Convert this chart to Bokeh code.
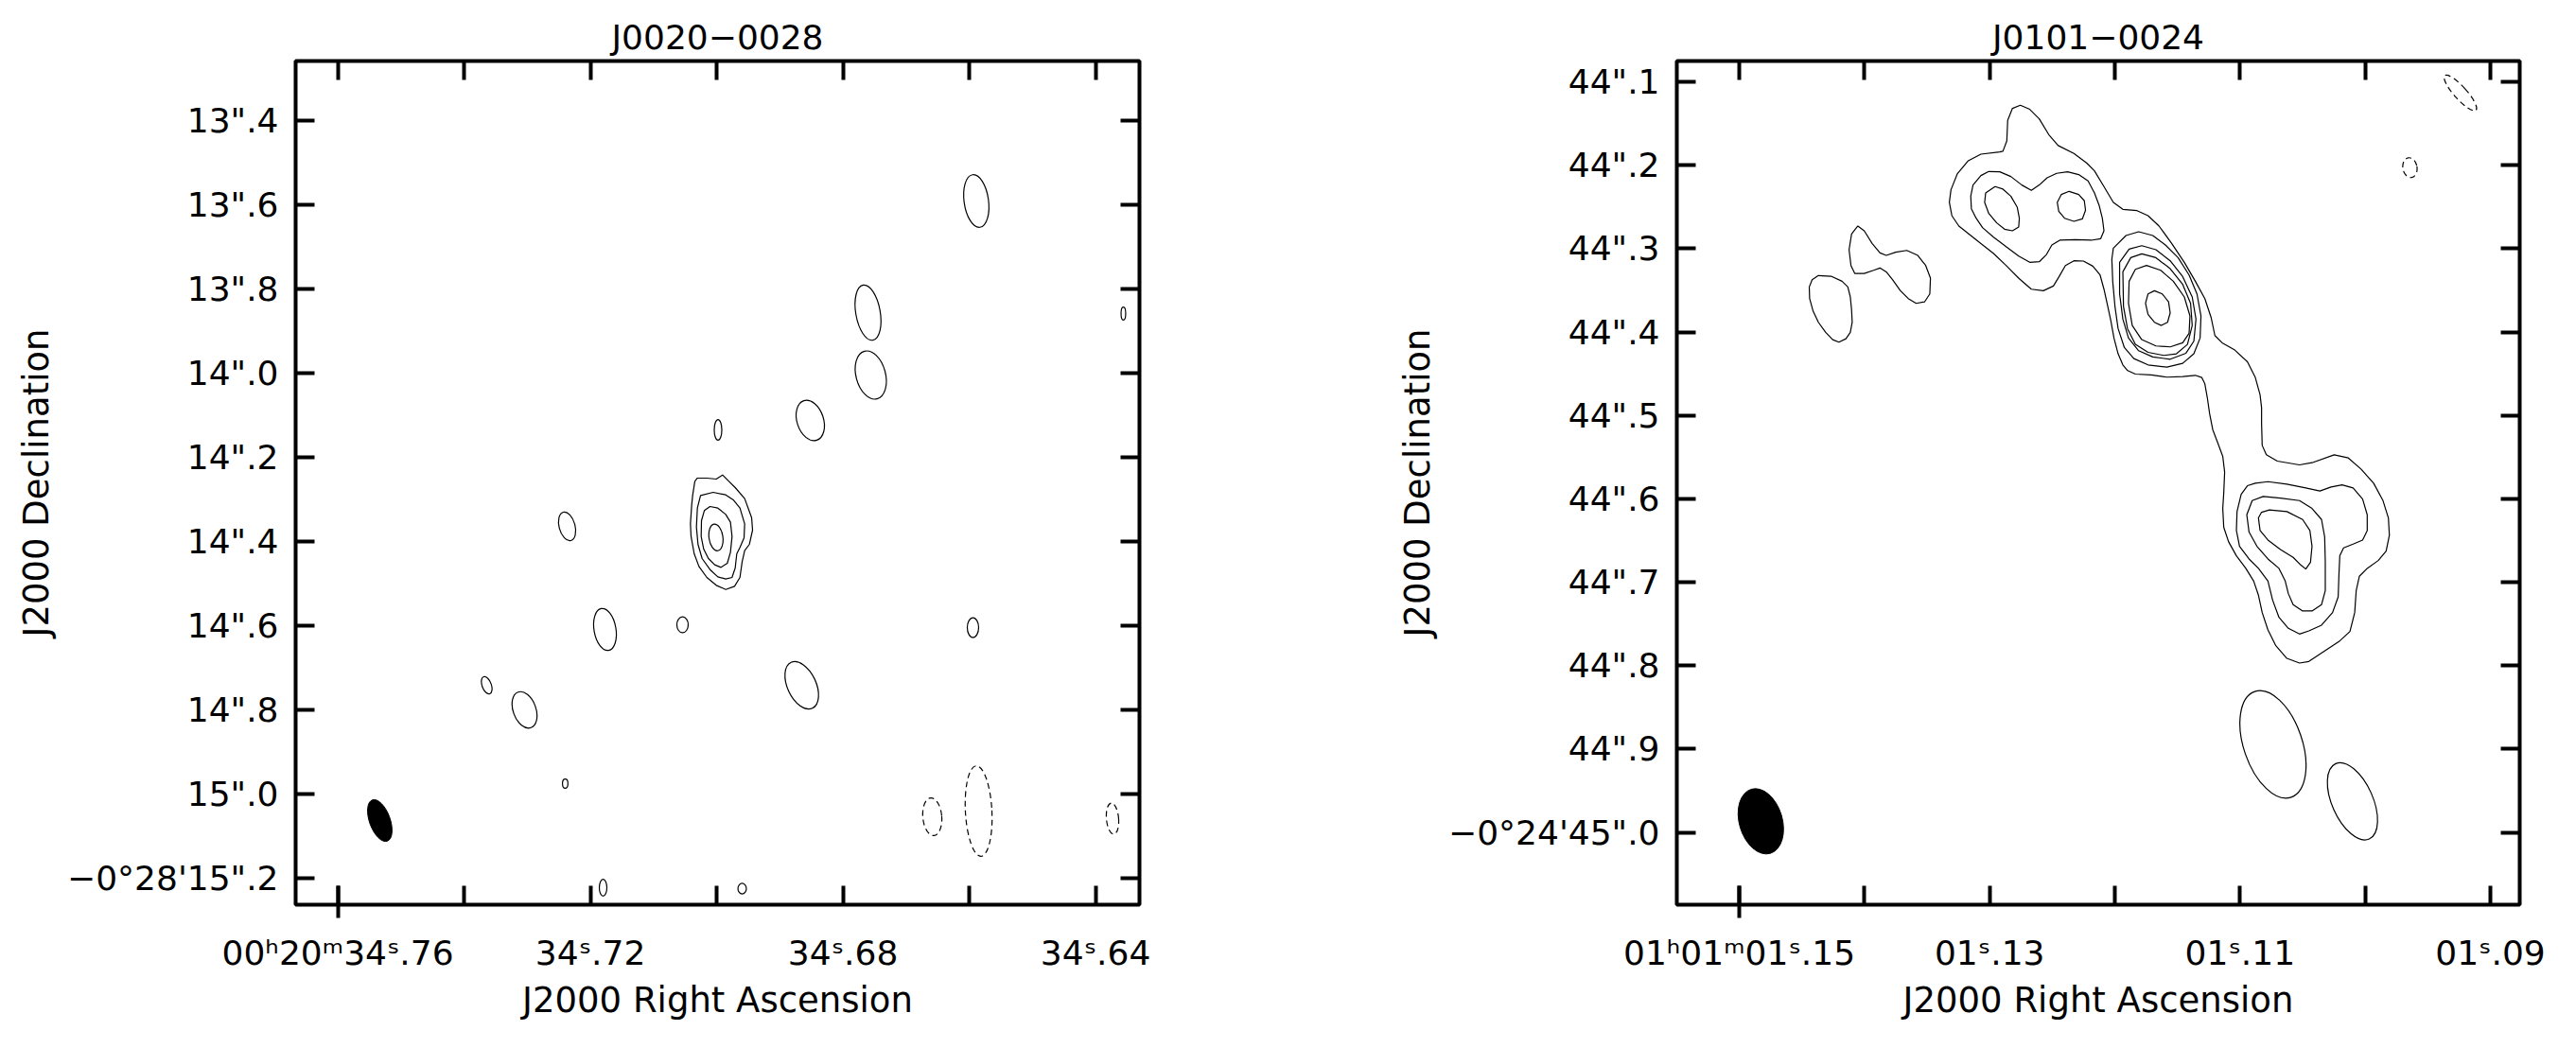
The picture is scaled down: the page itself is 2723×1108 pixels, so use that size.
import math
from bokeh.plotting import figure
from bokeh.layouts import row
from bokeh.models import Range1d, LinearAxis, FixedTicker
from bokeh.embed import file_html
from bokeh.resources import INLINE

FONT = "DejaVu Sans"

# ===================== J0020-0028 (left map) =====================
# RA in seconds of time after 00h20m, Dec in arcsec after -0d28'
L_TITLE = "J0020−0028"
L_DEC0_DEG = -0.4706
L_XLIM = (34.76668, 34.63305)
L_YLIM = (15.2629, 13.2584)
L_XTICKS = [34.76, 34.74, 34.72, 34.70, 34.68, 34.66, 34.64]
L_XLABELS = ["00ʰ20ᵐ34ˢ.76", "", "34ˢ.72", "", "34ˢ.68", "", "34ˢ.64"]
L_YTICKS = [13.4, 13.6, 13.8, 14.0, 14.2, 14.4, 14.6, 14.8, 15.0, 15.2]
L_YLABELS = ['13".4', '13".6', '13".8', '14".0', '14".2', '14".4', '14".6', '14".8', '15".0', "−0°28'15\".2"]

# contours of the central source (polygons)
L_SRC_RA = [
    [34.70306, 34.70156, 34.70007, 34.69907, 34.69807, 34.69707, 34.69557, 34.69447, 34.69432, 34.69482,
     34.69557, 34.69597, 34.69632, 34.69717, 34.69857, 34.70007, 34.70156, 34.70281, 34.70356, 34.70406,
     34.70416, 34.70396, 34.70381, 34.70346],
    [34.70256, 34.70056, 34.69857, 34.69732, 34.69632, 34.69557, 34.69567, 34.69632, 34.69682, 34.69707,
     34.69757, 34.69857, 34.69982, 34.70106, 34.70231, 34.70296, 34.70321, 34.70306],
    [34.70106, 34.69982, 34.69857, 34.69782, 34.69757, 34.69782, 34.69832, 34.69932, 34.70032, 34.70131,
     34.70206, 34.70246, 34.70241, 34.70196],
]
L_SRC_DEC = [
    [14.2494, 14.2494, 14.2517, 14.2419, 14.2569, 14.2719, 14.2981, 14.3431, 14.3730, 14.4067,
     14.4217, 14.4479, 14.4854, 14.5064, 14.5139, 14.5041, 14.4854, 14.4592, 14.4292, 14.3880,
     14.3581, 14.3131, 14.2906, 14.2569],
    [14.2906, 14.2831, 14.2891, 14.3019, 14.3206, 14.3581, 14.3918, 14.4142, 14.4292, 14.4629,
     14.4854, 14.4891, 14.4839, 14.4667, 14.4404, 14.4067, 14.3655, 14.3206],
    [14.3169, 14.3206, 14.3356, 14.3543, 14.3880, 14.4255, 14.4517, 14.4614, 14.4554, 14.4404,
     14.4180, 14.3880, 14.3506, 14.3266],
]

# positive contour islands (ellipses): centre, major / minor axis (arcsec), PA (deg)
L_ISL_RA = [34.65889, 34.67604, 34.67560, 34.68518, 34.69979, 34.72369, 34.71769, 34.70541, 34.68653,
            34.65942, 34.73642, 34.73043, 34.72399, 34.71799, 34.69597, 34.63560, 34.70012]
L_ISL_DEC = [13.5910, 13.8562, 14.0045, 14.1124, 14.1348, 14.3640, 14.6090, 14.5978, 14.7416,
             14.6045, 14.7416, 14.8000, 14.9753, 15.2225, 15.2247, 13.8584, 14.3903]
L_ISL_MAJ = [0.126, 0.133, 0.117, 0.099, 0.049, 0.070, 0.101, 0.038, 0.120,
             0.047, 0.043, 0.090, 0.022, 0.040, 0.025, 0.031, 0.064]
L_ISL_MIN = [0.058, 0.058, 0.070, 0.063, 0.018, 0.038, 0.052, 0.027, 0.068,
             0.027, 0.022, 0.054, 0.013, 0.018, 0.020, 0.011, 0.033]
L_ISL_PA = [8, 10, 15, 18, 0, 15, 10, 0, 25, 0, 20, 20, 0, 0, 0, 0, 8]

# negative contours (dashed)
L_NEG_RA = [34.66586, 34.65852, 34.63732]
L_NEG_DEC = [15.0539, 15.0404, 15.0584]
L_NEG_MAJ = [0.090, 0.216, 0.074]
L_NEG_MIN = [0.045, 0.063, 0.029]
L_NEG_PA = [5, 3, 5]

# restoring beam
L_BEAM_RA, L_BEAM_DEC, L_BEAM_MAJ, L_BEAM_MIN, L_BEAM_PA = 34.75335, 15.0629, 0.104, 0.049, 20

# ===================== J0101-0024 (right map) =====================
# RA in seconds of time after 01h01m, Dec in arcsec after -0d24'
R_TITLE = "J0101−0024"
R_DEC0_DEG = -0.4125
R_XLIM = (1.15499, 1.08766)
R_YLIM = (45.0867, 44.0750)
R_XTICKS = [1.15, 1.14, 1.13, 1.12, 1.11, 1.10, 1.09]
R_XLABELS = ["01ʰ01ᵐ01ˢ.15", "", "01ˢ.13", "", "01ˢ.11", "", "01ˢ.09"]
R_YTICKS = [44.1, 44.2, 44.3, 44.4, 44.5, 44.6, 44.7, 44.8, 44.9, 45.0]
R_YLABELS = ['44".1', '44".2', '44".3', '44".4', '44".5', '44".6', '44".7', '44".8', '44".9', "−0°24'45\".0"]

R_POLY_RA = [
    # lowest contour enclosing the whole jet
    [1.12894, 1.12863, 1.12856, 1.12818, 1.12755, 1.12680, 1.12604, 1.12528, 1.12453, 1.12327,
     1.12226, 1.12163, 1.12087, 1.12012, 1.11936, 1.11823, 1.11735, 1.11647, 1.11546, 1.11445,
     1.11357, 1.11281, 1.11231, 1.11201, 1.11143, 1.11042, 1.10941, 1.10878, 1.10840, 1.10828,
     1.10828, 1.10823, 1.10790, 1.10702, 1.10525, 1.10425, 1.10248, 1.10135, 1.10034, 1.09933,
     1.09858, 1.09815, 1.09807, 1.09833, 1.09896, 1.09984, 1.10047, 1.10072, 1.10084, 1.10122,
     1.10210, 1.10336, 1.10450, 1.10525, 1.10626, 1.10714, 1.10777, 1.10823, 1.10853, 1.10891,
     1.10954, 1.11029, 1.11092, 1.11130, 1.11138, 1.11130, 1.11123, 1.11138, 1.11180, 1.11218,
     1.11243, 1.11261, 1.11281, 1.11306, 1.11357, 1.11458, 1.11584, 1.11710, 1.11836, 1.11898,
     1.11936, 1.11974, 1.12007, 1.12032, 1.12062, 1.12087, 1.12118, 1.12176, 1.12251, 1.12327,
     1.12395, 1.12445, 1.12491, 1.12571, 1.12667, 1.12763, 1.12869, 1.12969, 1.13120, 1.13246,
     1.13302, 1.13322, 1.13309, 1.13259, 1.13171, 1.13070, 1.12919],
    # second contour round the double knot
    [1.13151, 1.13133, 1.13070, 1.13007, 1.12919, 1.12831, 1.12743, 1.12667, 1.12604, 1.12541,
     1.12465, 1.12377, 1.12289, 1.12214, 1.12163, 1.12125, 1.12100, 1.12087, 1.12113, 1.12188,
     1.12314, 1.12440, 1.12503, 1.12546, 1.12604, 1.12680, 1.12768, 1.12869, 1.12969, 1.13057,
     1.13108, 1.13146],
    [1.12957, 1.12894, 1.12831, 1.12780, 1.12763, 1.12768, 1.12818, 1.12881, 1.12944, 1.13007,
     1.13040, 1.13032],
    [1.12365, 1.12289, 1.12244, 1.12234, 1.12259, 1.12327, 1.12402, 1.12448, 1.12460, 1.12428],
    # main knot
    [1.12012, 1.11911, 1.11810, 1.11697, 1.11596, 1.11495, 1.11407, 1.11344, 1.11312, 1.11319,
     1.11369, 1.11458, 1.11584, 1.11735, 1.11848, 1.11924, 1.11974, 1.11999, 1.12017, 1.12024],
    [1.11962, 1.11886, 1.11785, 1.11672, 1.11558, 1.11458, 1.11382, 1.11352, 1.11369, 1.11432,
     1.11558, 1.11697, 1.11810, 1.11891, 1.11936, 1.11962],
    [1.11936, 1.11873, 1.11785, 1.11672, 1.11558, 1.11458, 1.11395, 1.11382, 1.11420, 1.11508,
     1.11609, 1.11735, 1.11836, 1.11899, 1.11931],
    [1.11886, 1.11836, 1.11747, 1.11634, 1.11533, 1.11445, 1.11400, 1.11407, 1.11458, 1.11558,
     1.11672, 1.11785, 1.11861, 1.11891],
    [1.11684, 1.11621, 1.11571, 1.11558, 1.11579, 1.11629, 1.11684, 1.11735, 1.11755, 1.11735],
    # southern knot
    [1.10878, 1.10777, 1.10626, 1.10475, 1.10362, 1.10273, 1.10185, 1.10097, 1.10021, 1.09984,
     1.09984, 1.10021, 1.10097, 1.10173, 1.10203, 1.10210, 1.10216, 1.10261, 1.10349, 1.10450,
     1.10525, 1.10614, 1.10689, 1.10740, 1.10777, 1.10853, 1.10928, 1.11004, 1.11029, 1.11024,
     1.10991, 1.10941],
    [1.10815, 1.10677, 1.10525, 1.10425, 1.10349, 1.10324, 1.10319, 1.10319, 1.10349, 1.10425,
     1.10500, 1.10576, 1.10614, 1.10639, 1.10689, 1.10777, 1.10865, 1.10928, 1.10946, 1.10903],
    [1.10765, 1.10626, 1.10500, 1.10442, 1.10425, 1.10437, 1.10475, 1.10513, 1.10576, 1.10677,
     1.10777, 1.10840, 1.10853, 1.10828],
    # isolated features to the east
    [1.14368, 1.14267, 1.14179, 1.14133, 1.14113, 1.14103, 1.14098, 1.14113, 1.14148, 1.14204,
     1.14254, 1.14310, 1.14368, 1.14410, 1.14438, 1.14441, 1.14418],
    [1.14053, 1.14002, 1.13939, 1.13876, 1.13826, 1.13750, 1.13662, 1.13574, 1.13511, 1.13473,
     1.13478, 1.13519, 1.13587, 1.13650, 1.13713, 1.13776, 1.13826, 1.13876, 1.13927, 1.14002,
     1.14078, 1.14108, 1.14123, 1.14103],
]
R_POLY_DEC = [
    [44.1832, 44.1708, 44.1462, 44.1318, 44.1280, 44.1329, 44.1443, 44.1632, 44.1764, 44.1859,
     44.1972, 44.2067, 44.2256, 44.2445, 44.2529, 44.2544, 44.2604, 44.2729, 44.2937, 44.3164,
     44.3391, 44.3599, 44.3826, 44.4042, 44.4129, 44.4216, 44.4356, 44.4545, 44.4753, 44.4905,
     44.5094, 44.5359, 44.5472, 44.5548, 44.5593, 44.5567, 44.5472, 44.5510, 44.5643, 44.5813,
     44.6022, 44.6229, 44.6437, 44.6626, 44.6740, 44.6834, 44.6929, 44.7099, 44.7364, 44.7591,
     44.7712, 44.7837, 44.7950, 44.7969, 44.7913, 44.7761, 44.7572, 44.7364, 44.7156, 44.6986,
     44.6834, 44.6683, 44.6513, 44.6342, 44.6115, 44.5926, 44.5680, 44.5491, 44.5321, 44.5170,
     44.4980, 44.4791, 44.4621, 44.4545, 44.4519, 44.4534, 44.4541, 44.4515, 44.4504, 44.4462,
     44.4394, 44.4261, 44.4072, 44.3864, 44.3656, 44.3486, 44.3316, 44.3210, 44.3149, 44.3145,
     44.3202, 44.3335, 44.3448, 44.3505, 44.3486, 44.3361, 44.3202, 44.3058, 44.2880, 44.2729,
     44.2604, 44.2445, 44.2294, 44.2105, 44.1946, 44.1867, 44.1840],
    [44.2370, 44.2237, 44.2124, 44.2075, 44.2078, 44.2135, 44.2237, 44.2302, 44.2237, 44.2150,
     44.2097, 44.2078, 44.2112, 44.2188, 44.2332, 44.2483, 44.2635, 44.2786, 44.2880, 44.2899,
     44.2892, 44.2899, 44.2956, 44.3070, 44.3157, 44.3164, 44.3089, 44.2975, 44.2862, 44.2748,
     44.2635, 44.2521],
    [44.2256, 44.2286, 44.2370, 44.2502, 44.2635, 44.2740, 44.2786, 44.2767, 44.2691, 44.2578,
     44.2445, 44.2332],
    [44.2313, 44.2351, 44.2426, 44.2540, 44.2642, 44.2672, 44.2635, 44.2551, 44.2445, 44.2351],
    [44.2994, 44.2843, 44.2797, 44.2843, 44.2956, 44.3108, 44.3316, 44.3543, 44.3807, 44.4072,
     44.4261, 44.4375, 44.4420, 44.4394, 44.4318, 44.4186, 44.3959, 44.3694, 44.3391, 44.3126],
    [44.3164, 44.3005, 44.2964, 44.3013, 44.3145, 44.3335, 44.3580, 44.3845, 44.4110, 44.4254,
     44.4326, 44.4299, 44.4224, 44.4072, 44.3845, 44.3543],
    [44.3278, 44.3108, 44.3062, 44.3108, 44.3240, 44.3429, 44.3656, 44.3921, 44.4148, 44.4261,
     44.4280, 44.4243, 44.4148, 44.3959, 44.3694],
    [44.3391, 44.3248, 44.3202, 44.3259, 44.3391, 44.3580, 44.3807, 44.4016, 44.4129, 44.4178,
     44.4167, 44.4091, 44.3921, 44.3656],
    [44.3505, 44.3543, 44.3637, 44.3770, 44.3883, 44.3921, 44.3883, 44.3789, 44.3656, 44.3543],
    [44.5813, 44.5794, 44.5824, 44.5870, 44.5907, 44.5858, 44.5832, 44.5870, 44.6002, 44.6191,
     44.6380, 44.6494, 44.6543, 44.6588, 44.6683, 44.6910, 44.7175, 44.7364, 44.7515, 44.7584,
     44.7621, 44.7553, 44.7421, 44.7213, 44.6986, 44.6834, 44.6721, 44.6569, 44.6380, 44.6153,
     44.5945, 44.5843],
    [44.5972, 44.5991, 44.6021, 44.6115, 44.6248, 44.6456, 44.6759, 44.7099, 44.7269, 44.7345,
     44.7345, 44.7269, 44.7137, 44.6986, 44.6834, 44.6721, 44.6569, 44.6399, 44.6191, 44.6021],
    [44.6134, 44.6153, 44.6248, 44.6380, 44.6569, 44.6759, 44.6842, 44.6796, 44.6702, 44.6607,
     44.6494, 44.6380, 44.6229, 44.6161],
    [44.3323, 44.3331, 44.3391, 44.3459, 44.3580, 44.3732, 44.3883, 44.4004, 44.4080, 44.4122,
     44.4091, 44.4004, 44.3883, 44.3751, 44.3599, 44.3459, 44.3372],
    [44.2729, 44.2786, 44.2937, 44.3051, 44.3081, 44.3043, 44.3021, 44.3081, 44.3202, 44.3353,
     44.3543, 44.3637, 44.3656, 44.3599, 44.3505, 44.3372, 44.3278, 44.3232, 44.3259, 44.3297,
     44.3297, 44.3202, 44.3013, 44.2824],
]

R_ISL_RA = [1.10737, 1.10102]
R_ISL_DEC = [44.8945, 44.9627]
R_ISL_MAJ = [0.134, 0.099]
R_ISL_MIN = [0.070, 0.049]
R_ISL_PA = [19, 24]

R_NEG_RA = [1.09240, 1.09643]
R_NEG_DEC = [44.1133, 44.2029]
R_NEG_MAJ = [0.056, 0.024]
R_NEG_MIN = [0.015, 0.017]
R_NEG_PA = [42, 10]

R_BEAM_RA, R_BEAM_DEC, R_BEAM_MAJ, R_BEAM_MIN, R_BEAM_PA = 1.14828, 44.9867, 0.0802, 0.0516, 16.5


def style_axis(ax, show_labels, standoff):
    ax.axis_line_color = None
    ax.major_tick_line_color = "black"
    ax.major_tick_line_width = 4
    ax.major_tick_in = 20
    ax.major_tick_out = 0
    ax.minor_tick_line_color = None
    ax.major_label_text_font = FONT
    ax.major_label_text_color = "black"
    ax.major_label_text_font_size = "36px" if show_labels else "0px"
    ax.major_label_standoff = standoff
    ax.axis_label_text_font = FONT
    ax.axis_label_text_font_size = "37px"
    ax.axis_label_text_font_style = "normal"
    ax.axis_label_text_color = "black"


def build(title, xlim, ylim, xticks, xlabels, yticks, ylabels, width, b_left, b_right,
          polys_ra, polys_dec, isl, neg, beam, dec0_deg):
    p = figure(width=width, height=1108, x_range=Range1d(*xlim), y_range=Range1d(*ylim),
               output_backend="svg", toolbar_location=None,
               x_axis_location=None, y_axis_location=None,
               min_border_left=b_left, min_border_right=b_right,
               min_border_top=64, min_border_bottom=152,
               background_fill_color="white", border_fill_color="white",
               outline_line_color="black", outline_line_width=4)
    p.xgrid.visible = False
    p.ygrid.visible = False

    p.title.text = title
    p.title.align = "center"
    p.title.text_font = FONT
    p.title.text_font_size = "36px"
    p.title.text_font_style = "normal"
    p.title.text_color = "black"
    p.title.standoff = 9

    xover = {t: l for t, l in zip(xticks, xlabels)}
    yover = {t: l for t, l in zip(yticks, ylabels)}
    blank_x = {t: "" for t in xticks}
    blank_y = {t: "" for t in yticks}

    bottom = LinearAxis(ticker=FixedTicker(ticks=xticks, minor_ticks=[xticks[0]]),
                        major_label_overrides=xover, axis_label="J2000 Right Ascension")
    style_axis(bottom, True, 16)
    bottom.minor_tick_line_color = "black"
    bottom.minor_tick_line_width = 4
    bottom.minor_tick_in = 20
    bottom.minor_tick_out = 14
    bottom.axis_label_standoff = 5
    p.add_layout(bottom, "below")

    top = LinearAxis(ticker=FixedTicker(ticks=xticks), major_label_overrides=blank_x)
    style_axis(top, False, 0)
    p.add_layout(top, "above")

    left = LinearAxis(ticker=FixedTicker(ticks=yticks), major_label_overrides=yover,
                      axis_label="J2000 Declination")
    style_axis(left, True, 18)
    left.axis_label_standoff = 8
    p.add_layout(left, "left")

    right = LinearAxis(ticker=FixedTicker(ticks=yticks), major_label_overrides=blank_y)
    style_axis(right, False, 0)
    p.add_layout(right, "right")

    cosd = math.cos(math.radians(dec0_deg))
    to_sec = lambda arcsec: arcsec / (15.0 * cosd)

    p.patches(polys_ra, polys_dec, fill_color=None, line_color="black", line_width=1.2)

    ira, idec, imaj, imin, ipa = isl
    p.ellipse(x=ira, y=idec, width=[to_sec(m) for m in imin], height=imaj, angle=ipa,
              angle_units="deg", fill_color=None, line_color="black", line_width=1.2)

    nra, ndec, nmaj, nmin, npa = neg
    p.ellipse(x=nra, y=ndec, width=[to_sec(m) for m in nmin], height=nmaj, angle=npa,
              angle_units="deg", fill_color=None, line_color="black", line_width=1.2,
              line_dash="6 4")

    bra, bdec, bmaj, bmin, bpa = beam
    p.ellipse(x=[bra], y=[bdec], width=[to_sec(bmin)], height=[bmaj], angle=[bpa],
              angle_units="deg", fill_color="black", line_color="black")
    return p


p1 = build(L_TITLE, L_XLIM, L_YLIM, L_XTICKS, L_XLABELS, L_YTICKS, L_YLABELS, 1472, 312, 268,
           L_SRC_RA, L_SRC_DEC,
           (L_ISL_RA, L_ISL_DEC, L_ISL_MAJ, L_ISL_MIN, L_ISL_PA),
           (L_NEG_RA, L_NEG_DEC, L_NEG_MAJ, L_NEG_MIN, L_NEG_PA),
           (L_BEAM_RA, L_BEAM_DEC, L_BEAM_MAJ, L_BEAM_MIN, L_BEAM_PA), L_DEC0_DEG)

p2 = build(R_TITLE, R_XLIM, R_YLIM, R_XTICKS, R_XLABELS, R_YTICKS, R_YLABELS, 1250, 300, 59,
           R_POLY_RA, R_POLY_DEC,
           (R_ISL_RA, R_ISL_DEC, R_ISL_MAJ, R_ISL_MIN, R_ISL_PA),
           (R_NEG_RA, R_NEG_DEC, R_NEG_MAJ, R_NEG_MIN, R_NEG_PA),
           (R_BEAM_RA, R_BEAM_DEC, R_BEAM_MAJ, R_BEAM_MIN, R_BEAM_PA), R_DEC0_DEG)

layout = row(p1, p2)
open("out.html", "w").write(file_html(layout, INLINE))
